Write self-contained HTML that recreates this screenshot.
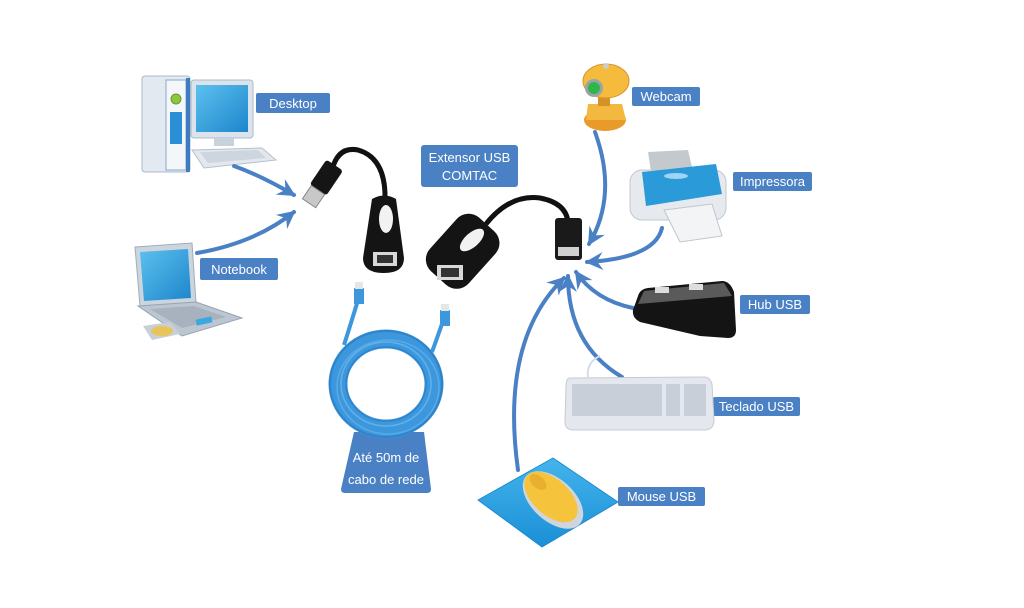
<!DOCTYPE html>
<html><head><meta charset="utf-8"><style>
html,body{margin:0;padding:0;background:#fff;}
svg{display:block;}
text{font-family:"Liberation Sans",sans-serif;fill:#fff;font-size:13px;}
</style></head><body>
<svg width="1024" height="608" viewBox="0 0 1024 608" xmlns="http://www.w3.org/2000/svg">
<defs>
<marker id="ah" markerUnits="userSpaceOnUse" markerWidth="20" markerHeight="20" refX="16" refY="10" orient="auto">
<path d="M0,1 L18,10 L0,19 L6,10 Z" fill="#4a80c4"/>
</marker>
<linearGradient id="scr" x1="0" y1="0" x2="1" y2="1"><stop offset="0" stop-color="#5cc0ee"/><stop offset="1" stop-color="#1d86cc"/></linearGradient>
<linearGradient id="pad" x1="0" y1="0" x2="0" y2="1"><stop offset="0" stop-color="#44b4ec"/><stop offset="1" stop-color="#1a8fd6"/></linearGradient>
</defs>
<rect width="1024" height="608" fill="#fff"/>

<!-- Desktop -->
<rect x="142" y="76" width="48" height="96" rx="3" fill="#e3e9f0" stroke="#a9b9cb"/>
<rect x="166" y="80" width="20" height="90" fill="#f4f7fa" stroke="#8aa6c6"/>
<rect x="186" y="78" width="4" height="94" fill="#3d7cc0"/>
<circle cx="176" cy="99" r="5" fill="#8cc63f" stroke="#6a9a30"/>
<rect x="170" y="112" width="12" height="32" fill="#2a8fd6"/>
<rect x="191" y="80" width="62" height="58" rx="3" fill="#dbe3ec" stroke="#a9b9cb"/>
<rect x="196" y="85" width="52" height="47" fill="url(#scr)"/>
<rect x="214" y="138" width="20" height="8" fill="#c9d2dc"/>
<polygon points="192,150 262,148 276,160 204,168" fill="#e4e8ee" stroke="#b5c0cc"/>
<polygon points="200,152 258,150 266,158 208,163" fill="#cdd5de"/>

<!-- Notebook -->
<polygon points="135,247 192,243 196,303 140,306" fill="#ccd5de" stroke="#9fadbc"/>
<polygon points="140,252 188,249 191,298 144,301" fill="url(#scr)"/>
<polygon points="138,306 196,302 242,318 182,336" fill="#bcc6d0" stroke="#97a4b2"/>
<polygon points="150,309 194,306 226,317 182,328" fill="#a7b2be"/>
<rect x="196" y="318" width="16" height="6" fill="#3ca8e0" transform="rotate(-12 204 321)"/>
<polygon points="143,326 170,322 180,334 152,340" fill="#c9cfd6"/>
<ellipse cx="162" cy="331" rx="11" ry="5" fill="#e8c45a"/>

<!-- Labels -->
<rect x="256" y="93" width="74" height="20" rx="2" fill="#4a80c4"/>
<text x="293" y="108" text-anchor="middle">Desktop</text>
<rect x="421" y="145" width="97" height="42" rx="3" fill="#4a80c4"/>
<text x="469.5" y="162" text-anchor="middle">Extensor USB</text>
<text x="469.5" y="180" text-anchor="middle">COMTAC</text>
<rect x="200" y="258" width="78" height="22" rx="2" fill="#4a80c4"/>
<text x="239" y="274" text-anchor="middle">Notebook</text>
<rect x="632" y="87" width="68" height="19" rx="2" fill="#4a80c4"/>
<text x="666" y="101" text-anchor="middle">Webcam</text>
<rect x="733" y="172" width="79" height="19" rx="2" fill="#4a80c4"/>
<text x="772.5" y="186" text-anchor="middle">Impressora</text>
<rect x="740" y="295" width="70" height="19" rx="2" fill="#4a80c4"/>
<text x="775" y="309" text-anchor="middle">Hub USB</text>
<rect x="713" y="397" width="87" height="19" rx="2" fill="#4a80c4"/>
<text x="756.5" y="411" text-anchor="middle">Teclado USB</text>
<rect x="618" y="487" width="87" height="19" rx="2" fill="#4a80c4"/>
<text x="661.5" y="501" text-anchor="middle">Mouse USB</text>
<path d="M354,432 L424,432 L431,489 Q431,493 427,493 L345,493 Q341,493 341,489 Z" fill="#4a80c4"/>
<text x="386" y="462" text-anchor="middle">Até 50m de</text>
<text x="386" y="484" text-anchor="middle">cabo de rede</text>

<!-- Arrows -->
<g fill="none" stroke="#4a80c4" stroke-width="4" stroke-linecap="round">
<path d="M234,166 Q262,176 294,195" marker-end="url(#ah)"/>
<path d="M197,253 Q255,243 294,212" marker-end="url(#ah)"/>
<path d="M595,132 Q618,195 589,244" marker-end="url(#ah)"/>
<path d="M662,228 Q655,258 587,262" marker-end="url(#ah)"/>
<path d="M633,308 Q595,300 576,272" marker-end="url(#ah)"/>
<path d="M622,377 Q568,345 568,276" marker-end="url(#ah)"/>
<path d="M518,470 Q500,340 564,278" marker-end="url(#ah)"/>
</g>

<!-- Left USB plug + extender -->
<path d="M332,170 Q338,146 358,150 Q386,158 385,200" fill="none" stroke="#111" stroke-width="5"/>
<g transform="translate(318,190) rotate(34)">
<rect x="-10" y="-30" width="20" height="30" rx="3" fill="#151515"/>
<rect x="-8" y="0" width="16" height="16" fill="#c8c8c8" stroke="#888"/>
</g>
<path d="M372,199 Q384,192 396,199 L404,258 Q404,273 384,273 Q363,273 363,258 Z" fill="#141414"/>
<ellipse cx="386" cy="219" rx="7" ry="14" fill="#f2f2f2"/>
<rect x="373" y="252" width="24" height="14" fill="#d8d8d8"/>
<rect x="377" y="255" width="16" height="8" fill="#333"/>

<!-- Right extender + female -->
<path d="M486,224 Q510,194 540,198 Q566,203 568,222" fill="none" stroke="#111" stroke-width="5"/>
<g transform="translate(462,252) rotate(42)">
<rect x="-26" y="-37" width="52" height="72" rx="16" fill="#141414"/>
</g>
<ellipse cx="472" cy="240" rx="7" ry="15" fill="#f2f2f2" transform="rotate(48 472 240)"/>
<rect x="437" y="265" width="26" height="15" fill="#d8d8d8"/>
<rect x="441" y="268" width="18" height="9" fill="#333"/>
<rect x="555" y="218" width="27" height="42" rx="3" fill="#1a1a1a"/>
<rect x="558" y="247" width="21" height="9" fill="#d0d0d0"/>

<!-- Network cable coil -->
<g fill="none" stroke="#3c97dc">
<path d="M344,345 Q352,320 358,300" stroke-width="4"/>
<path d="M432,352 Q440,330 444,318" stroke-width="4"/>
<ellipse cx="386" cy="384" rx="48" ry="45" stroke-width="19"/>
<ellipse cx="386" cy="384" rx="56" ry="53" stroke="#2f84c9" stroke-width="2"/>
<ellipse cx="386" cy="384" rx="40" ry="37" stroke="#2f84c9" stroke-width="1.5"/>
<ellipse cx="386" cy="384" rx="45" ry="42" stroke="#62b2ea" stroke-width="1.5"/>
<ellipse cx="388" cy="387" rx="51" ry="47" stroke="#5aaae6" stroke-width="1.5"/>
</g>
<rect x="354" y="288" width="10" height="16" fill="#3c97dc"/>
<rect x="355" y="282" width="8" height="7" fill="#e6e6e6"/>
<rect x="440" y="310" width="10" height="16" fill="#3c97dc"/>
<rect x="441" y="304" width="8" height="7" fill="#e6e6e6"/>

<!-- Webcam -->
<ellipse cx="605" cy="120" rx="21" ry="11" fill="#e89a2a"/>
<path d="M588,104 L622,104 L626,120 L586,120 Z" fill="#f3b840"/>
<rect x="598" y="96" width="12" height="10" fill="#d89028"/>
<ellipse cx="606" cy="81" rx="23" ry="17" fill="#f4bb3c" stroke="#d99528"/>
<circle cx="594" cy="88" r="9" fill="#9aa4a8"/>
<circle cx="594" cy="88" r="6" fill="#2fb64a"/>
<circle cx="606" cy="66" r="3" fill="#ccc"/>

<!-- Printer -->
<polygon points="648,152 688,150 694,176 652,178" fill="#c4c9ce"/>
<rect x="630" y="170" width="96" height="50" rx="12" fill="#e6eaee" stroke="#c0c8d0"/>
<polygon points="642,172 716,164 722,194 646,206" fill="#2a9ad8"/>
<ellipse cx="676" cy="176" rx="12" ry="3" fill="#9fd4f2"/>
<polygon points="664,210 712,204 722,236 680,242" fill="#f2f4f6" stroke="#bfc6cc"/>

<!-- Hub -->
<path d="M648,288 L722,281 Q730,281 734,292 L736,330 Q736,338 728,338 L700,336 L640,322 Q632,318 633,310 L638,296 Q640,289 648,288 Z" fill="#141414"/>
<polygon points="644,291 724,283 732,296 638,304" fill="#5a5a5a"/>
<rect x="655" y="287" width="14" height="6" fill="#ddd"/>
<rect x="689" y="284" width="14" height="6" fill="#ddd"/>

<!-- Keyboard -->
<path d="M570,378 L704,377 Q710,377 712,384 L714,420 Q714,430 704,430 L574,430 Q564,430 565,420 L566,386 Q566,378 570,378 Z" fill="#e4e8ee" stroke="#c4cbd4"/>
<rect x="572" y="384" width="90" height="32" fill="#c9cfd8"/>
<rect x="666" y="384" width="14" height="32" fill="#c9cfd8"/>
<rect x="684" y="384" width="22" height="32" fill="#c9cfd8"/>
<path d="M588,378 Q586,362 600,356" fill="none" stroke="#d8dde4" stroke-width="2"/>

<!-- Mouse -->
<polygon points="478,500 553,458 618,502 542,547" fill="url(#pad)" stroke="#1e8ad0" stroke-linejoin="round"/>
<ellipse cx="553" cy="500" rx="36" ry="21" fill="#cfd5dc" transform="rotate(42 553 500)"/>
<ellipse cx="551" cy="497" rx="32" ry="18" fill="#f6c33c" transform="rotate(42 551 497)"/>
<ellipse cx="538" cy="482" rx="10" ry="6" fill="#e9b030" transform="rotate(42 538 482)"/>
</svg>
</body></html>
